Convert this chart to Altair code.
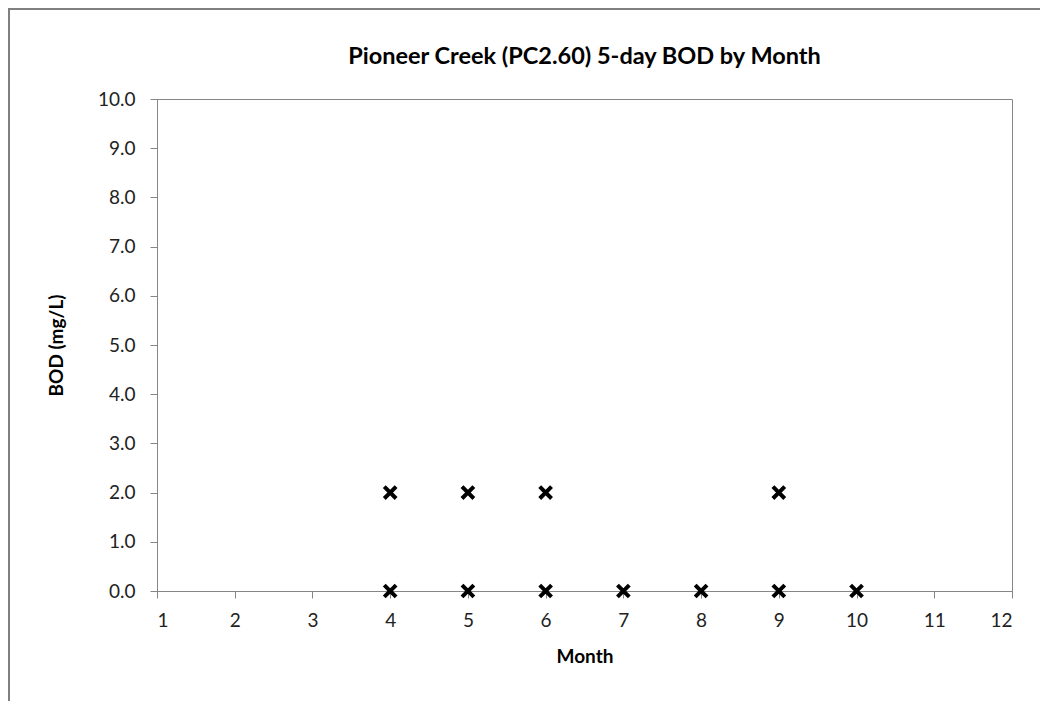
import altair as alt
import pandas as pd

months = [4, 4, 5, 5, 6, 6, 7, 8, 9, 9, 10]
bod = [2.0, 0.0, 2.0, 0.0, 2.0, 0.0, 0.0, 0.0, 2.0, 0.0, 0.0]
x_ticks = list(range(1, 13))
y_ticks = [float(v) for v in range(0, 11)]

df = pd.DataFrame({"Month": months, "BOD": bod})

FONT = "Lato"
AXIS_COLOR = "#868686"
TEXT_COLOR = "#222222"

xpath = "M-1,-1L1,1M-1,1L1,-1"

points = alt.Chart(df).mark_point(
    shape=xpath, size=140, strokeWidth=4, color="black", filled=False, opacity=1
).encode(
    x=alt.X(
        "Month:Q",
        scale=alt.Scale(domain=[1, 12], nice=False, zero=False),
        axis=alt.Axis(
            values=x_ticks, format="d", title="Month", tickSize=7,
            labelPadding=13, titlePadding=17, grid=False, zindex=0,
        ),
    ),
    y=alt.Y(
        "BOD:Q",
        scale=alt.Scale(domain=[0, 10], nice=False),
        axis=alt.Axis(
            values=y_ticks, format=".1f", title="BOD (mg/L)", tickSize=7,
            labelPadding=15, titlePadding=31, grid=False, zindex=0,
        ),
    ),
)

border_df = pd.DataFrame({"a": [0]})
left_border = alt.Chart(border_df).mark_rule(color="#7f7f7f", strokeWidth=2).encode(
    x=alt.value(-148), y=alt.value(-90), y2=alt.value(620)
)
top_border = alt.Chart(border_df).mark_rule(color="#7f7f7f", strokeWidth=2).encode(
    x=alt.value(-149), x2=alt.value(900), y=alt.value(-90)
)

chart = alt.layer(left_border, top_border, points).properties(
    width=855,
    height=492,
    background="white",
    autosize=alt.AutoSizeParams(type="none"),
    padding={"left": 149, "top": 91, "right": 28, "bottom": 110},
    title=alt.TitleParams(
        "Pioneer Creek (PC2.60) 5-day BOD by Month",
        anchor="middle", frame="group", fontSize=23.5, font=FONT,
        fontWeight="bold", color="black", baseline="alphabetic",
        offset=0, dy=79,
    ),
).configure_view(
    stroke=AXIS_COLOR, strokeWidth=1
).configure_axis(
    domainColor=AXIS_COLOR, tickColor=AXIS_COLOR, labelFont=FONT,
    labelFontSize=19, labelColor=TEXT_COLOR, titleFont=FONT,
    titleFontSize=19, titleFontWeight="bold", titleColor="black",
)

chart.save("out.html", embed_options={"renderer": "svg", "actions": False})
